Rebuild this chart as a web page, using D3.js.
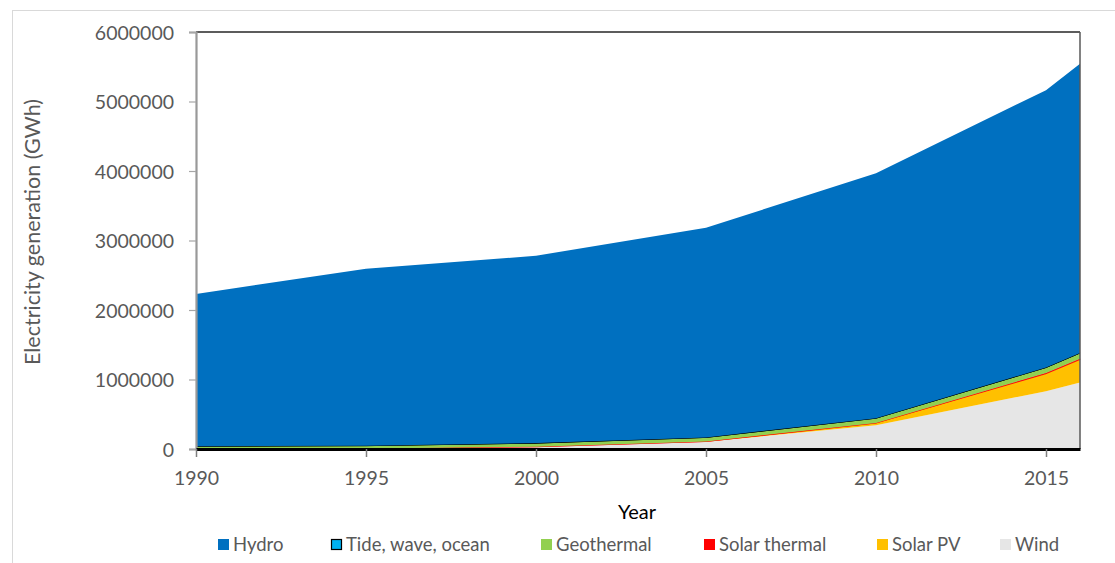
<!DOCTYPE html>
<html>
<head>
<meta charset="utf-8">
<script src="https://cdn.jsdelivr.net/npm/d3@7"></script>
<style>
  html, body { margin: 0; padding: 0; background: #fff; }
  svg { display: block; font-family: Lato, "Open Sans", sans-serif; }
</style>
</head>
<body>
<svg id="chart" width="1115" height="563"></svg>
<script>
// Renewable electricity generation by source, GWh
const years        = [1990, 1995, 2000, 2005, 2010, 2015, 2016];
const hydro        = [2190000, 2545000, 2695000, 3015000, 3525000, 3990000, 4160000];
const tideWaveOcean= [600, 600, 600, 600, 500, 1000, 1000];
const geothermal   = [36000, 39000, 52000, 58000, 68000, 80000, 83000];
const solarThermal = [700, 800, 500, 600, 1700, 9500, 11000];
const solarPV      = [100, 200, 1000, 4000, 32000, 252000, 329000];
const wind         = [3600, 7900, 31000, 104000, 342000, 831000, 958000];

const seriesNames  = ["Wind", "Solar PV", "Solar thermal", "Geothermal", "Tide, wave, ocean", "Hydro"];
const seriesValues = [wind, solarPV, solarThermal, geothermal, tideWaveOcean, hydro];
const legendOrder  = ["Hydro", "Tide, wave, ocean", "Geothermal", "Solar thermal", "Solar PV", "Wind"];
const yTicks       = [0, 1000000, 2000000, 3000000, 4000000, 5000000, 6000000];
const xTicks       = [1990, 1995, 2000, 2005, 2010, 2015];

const fills = {
  "Hydro": "#0070C0",
  "Tide, wave, ocean": "#00B0F0",
  "Geothermal": "#92D050",
  "Solar thermal": "#FF0000",
  "Solar PV": "#FFC000",
  "Wind": "#E6E6E6"
};
const strokes = {
  "Tide, wave, ocean": "#000",
  "Solar thermal": "#FF0000"
};

const svg = d3.select("#chart");

// outer chart frame
svg.append("rect")
  .attr("x", 12.5).attr("y", 10.5)
  .attr("width", 1200).attr("height", 700)
  .attr("fill", "none").attr("stroke", "#D9D9D9").attr("stroke-width", 1);

const plotLeft = 196, plotRight = 1080, plotTop = 32, plotBottom = 449;

const x = d3.scaleLinear().domain([1990, 2016]).range([plotLeft, plotRight]);
const y = d3.scaleLinear().domain([0, 6000000]).range([plotBottom, plotTop]);

const table = years.map((yr, i) => {
  const row = { year: yr };
  seriesNames.forEach((n, k) => row[n] = seriesValues[k][i]);
  return row;
});

const stacked = d3.stack().keys(seriesNames)(table);

const area = d3.area()
  .x(d => x(d.data.year))
  .y0(d => y(d[0]))
  .y1(d => y(d[1]));

svg.append("g").selectAll("path")
  .data(stacked)
  .join("path")
  .attr("d", area)
  .attr("fill", d => fills[d.key])
  .attr("stroke", d => strokes[d.key] || "none")
  .attr("stroke-width", d => d.key === "Solar thermal" ? 0.8 : 1)
  .attr("stroke-linejoin", "round");

// plot frame: top and right edges
svg.append("line")
  .attr("x1", plotLeft).attr("x2", plotRight).attr("y1", plotTop).attr("y2", plotTop)
  .attr("stroke", "#262626").attr("stroke-width", 1.5);
svg.append("line")
  .attr("x1", plotRight).attr("x2", plotRight).attr("y1", plotTop).attr("y2", plotBottom)
  .attr("stroke", "#595959").attr("stroke-width", 1.5);

// y axis
const yAxis = svg.append("g")
  .attr("transform", `translate(${plotLeft},0)`)
  .call(d3.axisLeft(y).tickValues(yTicks).tickFormat(d3.format("d")).tickSize(7).tickPadding(15));
yAxis.select(".domain").attr("stroke", "#999").attr("stroke-width", 2.2);
yAxis.selectAll(".tick line").attr("stroke", "#A6A6A6").attr("stroke-width", 1.2);
yAxis.selectAll(".tick text")
  .attr("fill", "#595959").attr("font-size", "19.5px").attr("font-family", "Lato, sans-serif")
  .attr("dy", "0.36em");

// x axis
const xAxis = svg.append("g")
  .attr("transform", `translate(0,${plotBottom})`)
  .call(d3.axisBottom(x).tickValues(xTicks).tickFormat(d3.format("d")).tickSize(8).tickSizeOuter(0).tickPadding(14));
xAxis.select(".domain").attr("stroke", "#000").attr("stroke-width", 2.8);
xAxis.selectAll(".tick line").attr("stroke", "#7F7F7F").attr("stroke-width", 1.5);
xAxis.selectAll(".tick text")
  .attr("fill", "#595959").attr("font-size", "19.5px").attr("font-family", "Lato, sans-serif");

// axis titles
svg.append("text")
  .attr("transform", "translate(40,232) rotate(-90)")
  .attr("text-anchor", "middle")
  .attr("fill", "#595959").attr("font-size", "21.5px")
  .text("Electricity generation (GWh)");

svg.append("text")
  .attr("x", 637).attr("y", 519)
  .attr("text-anchor", "middle")
  .attr("fill", "#000").attr("font-size", "20px")
  .text("Year");

// legend
const legendX = [218, 331, 541, 704, 877, 1000];
const legend = svg.append("g").selectAll("g")
  .data(legendOrder)
  .join("g")
  .attr("transform", (d, i) => `translate(${legendX[i]},539)`);
legend.append("rect")
  .attr("x", d => d === "Tide, wave, ocean" ? 0.5 : 0)
  .attr("y", d => d === "Tide, wave, ocean" ? 0.5 : 0)
  .attr("width", d => d === "Tide, wave, ocean" ? 10 : 11)
  .attr("height", d => d === "Tide, wave, ocean" ? 10 : 11)
  .attr("fill", d => fills[d])
  .attr("stroke", d => d === "Tide, wave, ocean" ? "#000" : "none")
  .attr("stroke-width", 1.2);
legend.append("text")
  .attr("x", 15).attr("y", 12)
  .attr("fill", "#595959").attr("font-size", "18.5px")
  .text(d => d);
</script>
</body>
</html>
